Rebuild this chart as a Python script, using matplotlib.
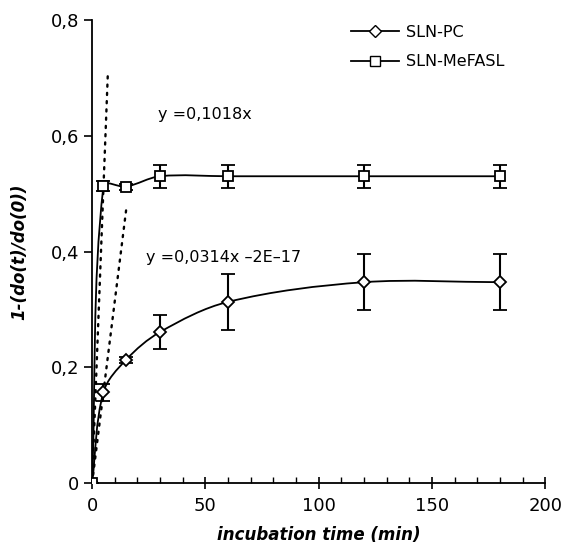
import numpy as np
import matplotlib
matplotlib.use("Agg")
import matplotlib.pyplot as plt
from matplotlib.path import Path
from matplotlib.patches import PathPatch

# Data
time_min = [0, 5, 15, 30, 60, 120, 180]
pc_y = [0.0, 0.157, 0.213, 0.261, 0.313, 0.347, 0.347]
pc_err = [0.0, 0.015, 0.005, 0.029, 0.049, 0.048, 0.048]
mef_y = [0.0, 0.513, 0.512, 0.530, 0.530, 0.530, 0.530]
mef_err = [0.0, 0.008, 0.005, 0.020, 0.020, 0.020, 0.020]
trend_slopes = [0.1018, 0.0314]
trend_xmax = [7, 15]
trend_labels = ["y =0,1018x", "y =0,0314x \u20132E\u201317"]
x_ticks = [0, 50, 100, 150, 200]
y_ticks = [0, 0.2, 0.4, 0.6, 0.8]
y_ticklabels = ["0", "0,2", "0,4", "0,6", "0,8"]

plt.rcParams['font.family'] = ['DejaVu Sans']

fig = plt.figure(figsize=(5.65, 5.54), dpi=100)
ax = fig.add_axes([0.163, 0.128, 0.802, 0.836])
ax.set_xlim(0, 200)
ax.set_ylim(0, 0.8)


def smooth_path(x, y, sx, sy):
    # smoothed (Bezier) line through the points, tangent lengths limited per segment
    P = np.column_stack([np.asarray(x, float) * sx, np.asarray(y, float) * sy])
    n = len(P)
    verts = [tuple(P[0] / [sx, sy])]
    codes = [Path.MOVETO]
    for i in range(n - 1):
        p0 = P[max(i-1, 0)]; p1 = P[i]; p2 = P[i+1]; p3 = P[min(i+2, n-1)]
        seg = np.linalg.norm(p2 - p1)
        d1 = p2 - p0; d2 = p3 - p1
        d1 = d1 / (np.linalg.norm(d1) or 1); d2 = d2 / (np.linalg.norm(d2) or 1)
        c1 = p1 + d1 * seg / 3
        c2 = p2 - d2 * seg / 3
        for c in (c1, c2, p2):
            verts.append(tuple(c / [sx, sy]))
        codes += [Path.CURVE4] * 3
    return Path(verts, codes)


sx = 453 / 200.0
sy = 463 / 0.8
for yv in (pc_y, mef_y):
    ax.add_patch(PathPatch(smooth_path(time_min, yv, sx, sy), fill=False,
                           edgecolor='black', lw=1.3, zorder=2))

# trend lines
for s, xm in zip(trend_slopes, trend_xmax):
    xs = np.array([0, xm])
    ax.plot(xs, s * xs, color='black', lw=1.7, linestyle=(0, (0.9, 2.6)),
            dash_capstyle='round', zorder=1)

ax.errorbar(time_min, pc_y, yerr=pc_err, fmt='D', ms=6.5, mfc='white', mec='black',
            mew=1.3, ecolor='black', elinewidth=1.5, capsize=5, capthick=1.5, zorder=3)
ax.errorbar(time_min, mef_y, yerr=mef_err, fmt='s', ms=7, mfc='white', mec='black',
            mew=1.3, ecolor='black', elinewidth=1.5, capsize=5, capthick=1.5, zorder=3)

# legend handles
h1, = ax.plot([], [], '-', color='black', marker='D', ms=6, mfc='white', mec='black', lw=1.3)
h2, = ax.plot([], [], '-', color='black', marker='s', ms=6.5, mfc='white', mec='black', lw=1.3)
ax.legend([h1, h2], ["SLN-PC", "SLN-MeFASL"], loc='upper left', frameon=False,
          fontsize=11.5, handlelength=3.0, bbox_to_anchor=(0.54, 1.02), labelspacing=0.9,
          handletextpad=0.45)

ax.text(29, 0.636, trend_labels[0], fontsize=11.5, va='center', ha='left')
ax.text(24, 0.39, trend_labels[1], fontsize=11.5, va='center', ha='left')

ax.set_xticks(x_ticks)
ax.set_xticks(np.arange(0, 201, 10), minor=True)
ax.set_yticks(y_ticks)
ax.set_yticklabels(y_ticklabels)
ax.tick_params(axis='x', which='major', direction='inout', length=8, width=1.2, labelsize=13, pad=6)
ax.tick_params(axis='x', which='minor', direction='in', length=4, width=1.0)
ax.tick_params(axis='y', which='major', direction='out', length=6, width=1.2, labelsize=13)
for sp in ['top', 'right']:
    ax.spines[sp].set_visible(False)
for sp in ['left', 'bottom']:
    ax.spines[sp].set_linewidth(1.3)

ax.set_xlabel("incubation time (min)", fontsize=12, fontweight='bold', style='italic', labelpad=8)
ax.set_ylabel("1-(do(t)/do(0))", fontsize=12, fontweight='bold', style='italic', labelpad=16)

fig.savefig("out.png", dpi=100, facecolor='white')
